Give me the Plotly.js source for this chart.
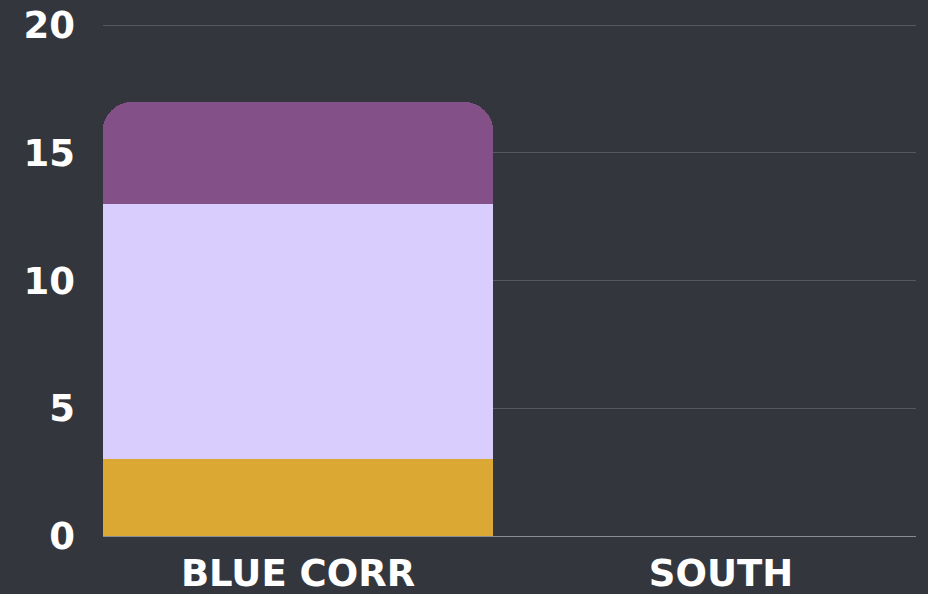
<!DOCTYPE html>
<html>
<head>
<meta charset="utf-8">
<script src="https://cdn.plot.ly/plotly-3.0.1.min.js"></script>
<style>html,body{margin:0;padding:0;background:#33363d;}#chart{width:928px;height:594px;}</style>
</head>
<body>
<div id="chart"></div>
<script>
const categories = ["BLUE CORR", "SOUTH"];
const seriesNames = ["Series A", "Series B", "Series C"];
const seriesA = [3, 0];
const seriesB = [10, 0];
const seriesC = [4, 0];
const yTicks = [0, 5, 10, 15, 20];

const colors = ["#dca834", "#d8cdfd", "#835188"];
const values = [seriesA, seriesB, seriesC];
const traces = values.map((v, i) => ({
  type: "bar",
  x: categories,
  y: v,
  name: seriesNames[i],
  marker: {color: colors[i], line: {width: 0}},
  hoverinfo: "x+y+name"
}));

const font = {family: "'DejaVu Sans', sans-serif", color: "#ffffff", size: 37, weight: 700};
const layout = {
  width: 928, height: 594,
  paper_bgcolor: "#33363d", plot_bgcolor: "#33363d",
  margin: {l: 103, r: 12, t: 20, b: 58},
  barmode: "stack", bargap: 0.076, barcornerradius: 30,
  showlegend: false,
  font: font,
  xaxis: {
    range: [-0.461, 1.461],
    showgrid: false, zeroline: false, showline: false,
    ticks: "", tickfont: font, ticklabelstandoff: 12
  },
  yaxis: {
    range: [0, 20.2], tickvals: yTicks, ticktext: yTicks.map(String),
    showgrid: true, gridcolor: "#55585e", gridwidth: 1,
    zeroline: true, zerolinecolor: "#8a8c8f", zerolinewidth: 1,
    showline: false, ticks: "", tickfont: font, ticklabelstandoff: 27
  }
};
Plotly.newPlot("chart", traces, layout, {displayModeBar: false, staticPlot: true});
</script>
</body>
</html>
